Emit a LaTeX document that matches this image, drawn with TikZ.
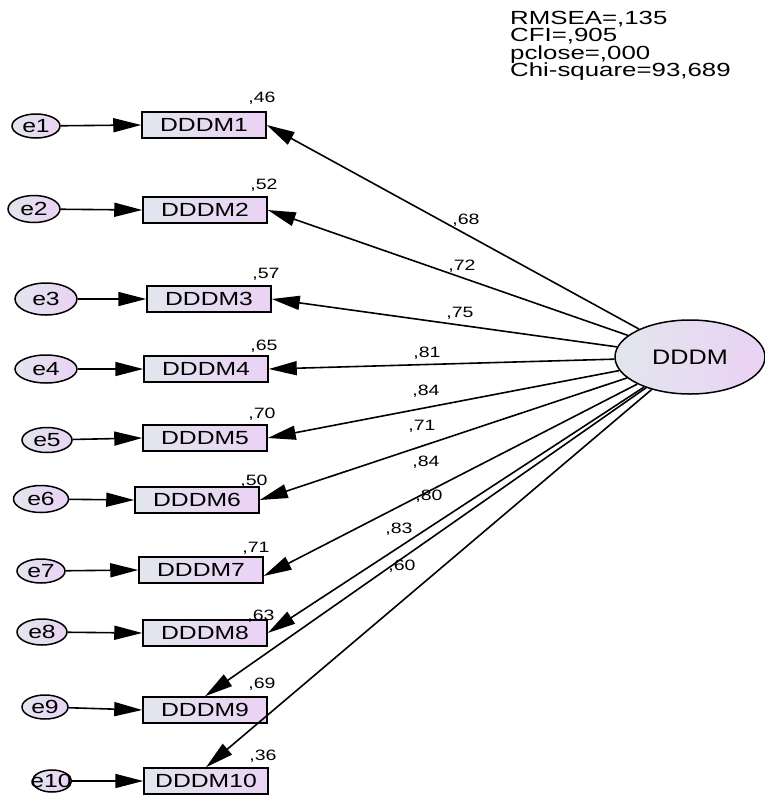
\documentclass[tikz,border=0pt]{standalone}
\usepackage{fontspec}
\setmainfont{Liberation Sans}
\usetikzlibrary{arrows.meta,shapes.geometric}

\definecolor{fillL}{RGB}{226,230,238}
\definecolor{fillR}{RGB}{234,210,244}

% horizontally widened text
\newcommand{\wtext}[2]{\scalebox{#1}[1]{#2}}

\begin{document}
\begin{tikzpicture}[x=1pt,y=-1pt,
  obs/.style={draw, line width=1.5pt, minimum width=124pt, minimum height=26pt,
    inner sep=0pt, left color=fillL, right color=fillR},
  err/.style={ellipse, draw, line width=1.5pt, inner sep=0pt,
    left color=fillL, right color=fillR},
  lat/.style={ellipse, draw, line width=1.5pt, inner sep=0pt,
    minimum width=150pt, minimum height=74pt, left color=fillL, right color=fillR},
  arr/.style={-{Triangle[length=28pt,width=14pt]}, line width=1.6pt},
  boxtext/.style={font=\fontsize{19}{19}\selectfont},
  small/.style={font=\fontsize{15}{15}\selectfont, inner sep=0pt},
  fit/.style={font=\fontsize{19}{19}\selectfont, inner sep=0pt, anchor=base west,
    text height=13pt, text depth=3pt}
]
\useasboundingbox (0,0) rectangle (764,796);

% fit indices
\node[fit] (fit1) at (510,24)   {\wtext{1.36}{RMSEA=,135}};
\node[fit] (fit2) at (510,41.5) {\wtext{1.36}{CFI=,905}};
\node[fit] (fit3) at (510,59)   {\wtext{1.36}{pclose=,000}};
\node[fit] (fit4) at (510,76.5) {\wtext{1.36}{Chi-square=93,689}};

% latent factor
\node[lat, font=\fontsize{21}{21}\selectfont] (lat) at (690,357) {\wtext{1.2}{DDDM}};

% observed indicators
\node[obs, boxtext] (d1)  at (204,125) {\wtext{1.3}{DDDM1}};
\node[obs, boxtext] (d2)  at (205,210) {\wtext{1.3}{DDDM2}};
\node[obs, boxtext] (d3)  at (209,299) {\wtext{1.3}{DDDM3}};
\node[obs, boxtext] (d4)  at (206,369) {\wtext{1.3}{DDDM4}};
\node[obs, boxtext] (d5)  at (205,438) {\wtext{1.3}{DDDM5}};
\node[obs, boxtext] (d6)  at (197,500) {\wtext{1.3}{DDDM6}};
\node[obs, boxtext] (d7)  at (201,570) {\wtext{1.3}{DDDM7}};
\node[obs, boxtext] (d8)  at (205,633) {\wtext{1.3}{DDDM8}};
\node[obs, boxtext] (d9)  at (205,710) {\wtext{1.3}{DDDM9}};
\node[obs, boxtext] (d10) at (206,781) {\wtext{1.3}{DDDM10}};

% error terms
\node[err, boxtext, minimum width=48pt, minimum height=24pt] (e1)  at (36,126) {\wtext{1.3}{e1}};
\node[err, boxtext, minimum width=52pt, minimum height=27pt] (e2)  at (34,209) {\wtext{1.3}{e2}};
\node[err, boxtext, minimum width=62pt, minimum height=32pt] (e3)  at (46,299) {\wtext{1.3}{e3}};
\node[err, boxtext, minimum width=62pt, minimum height=28pt] (e4)  at (46,369) {\wtext{1.3}{e4}};
\node[err, boxtext, minimum width=50pt, minimum height=25pt] (e5)  at (47,440) {\wtext{1.3}{e5}};
\node[err, boxtext, minimum width=55pt, minimum height=27pt] (e6)  at (41,499) {\wtext{1.3}{e6}};
\node[err, boxtext, minimum width=48pt, minimum height=24pt] (e7)  at (41,571) {\wtext{1.3}{e7}};
\node[err, boxtext, minimum width=50pt, minimum height=26pt] (e8)  at (42,632) {\wtext{1.3}{e8}};
\node[err, boxtext, minimum width=46pt, minimum height=24pt] (e9)  at (45,707) {\wtext{1.3}{e9}};
\node[err, minimum width=39pt, minimum height=22pt] (e10) at (52,781) {};
\node[boxtext, inner sep=0pt] (e10t) at (51,781) {\wtext{1.3}{e10}};

% error paths
\foreach \i in {1,...,10} {
  \draw[arr] (e\i) -- (d\i.west);
}

% factor loadings
\draw[arr] (lat) -- (d1.east);
\draw[arr] (lat) -- (d2.east);
\draw[arr] (lat) -- (d3.east);
\draw[arr] (lat) -- (d4.east);
\draw[arr] (lat) -- (d5.east);
\draw[arr] (lat) -- (d6.east);
\draw[arr] (lat) -- ([yshift=-6pt]d7.east);
\draw[arr] (lat) -- (d8.east);
\draw[arr] (lat) -- (d9.north);
\draw[arr] (lat) -- (d10.north);

% loading values
\node[small] (l1)  at (466,220) {\wtext{1.3}{,68}};
\node[small] (l2)  at (462,266) {\wtext{1.3}{,72}};
\node[small] (l3)  at (460,313) {\wtext{1.3}{,75}};
\node[small] (l4)  at (427,353) {\wtext{1.3}{,81}};
\node[small] (l5)  at (426,391) {\wtext{1.3}{,84}};
\node[small] (l6)  at (422,426) {\wtext{1.3}{,71}};
\node[small] (l7)  at (426,462) {\wtext{1.3}{,84}};
\node[small] (l8)  at (429,496) {\wtext{1.3}{,80}};
\node[small] (l9)  at (399,529) {\wtext{1.3}{,83}};
\node[small] (l10) at (402,566) {\wtext{1.3}{,60}};

% squared multiple correlations
\node[small] (r1)  at (262,98)  {\wtext{1.3}{,46}};
\node[small] (r2)  at (264,185) {\wtext{1.3}{,52}};
\node[small] (r3)  at (266,274) {\wtext{1.3}{,57}};
\node[small] (r4)  at (264,346) {\wtext{1.3}{,65}};
\node[small] (r5)  at (262,414) {\wtext{1.3}{,70}};
\node[small] (r6)  at (254,481) {\wtext{1.3}{,50}};
\node[small] (r7)  at (256,548) {\wtext{1.3}{,71}};
\node[small] (r8)  at (261,616) {\wtext{1.3}{,63}};
\node[small] (r9)  at (262,684) {\wtext{1.3}{,69}};
\node[small] (r10) at (263,756) {\wtext{1.3}{,36}};
\end{tikzpicture}
\end{document}
